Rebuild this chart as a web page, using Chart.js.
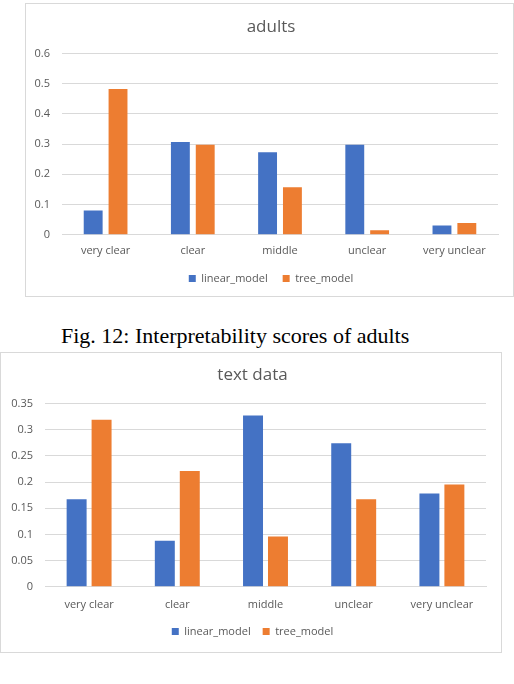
<!DOCTYPE html>
<html>
<head>
<meta charset="utf-8">
<script src="https://cdn.jsdelivr.net/npm/chart.js@4"></script>
<style>
    body { margin: 0; background: #fff; width: 514px; height: 684px; position: relative; overflow: hidden; }
    .frame { position: absolute; border: 1px solid #d9d9d9; background: #fff; box-sizing: border-box; }
    #box-adults { left: 25px; top: 3px; width: 489px; height: 294px; }
    #box-text { left: 0px; top: 352px; width: 502px; height: 301px; }
    .caption { position: absolute; left: 61px; top: 323px; font-family: "Liberation Serif", serif; font-size: 22px; line-height: 26px; color: #000; white-space: nowrap; }
</style>
</head>
<body>
<div class="frame" id="box-adults"><canvas id="chart-adults"></canvas></div>
<div class="caption">Fig. 12: Interpretability scores of adults</div>
<div class="frame" id="box-text"><canvas id="chart-text"></canvas></div>

<script>
// Catégories communes
const categories = ['very clear', 'clear', 'middle', 'unclear', 'very unclear'];
const seriesNames = ['linear_model', 'tree_model'];

// adults
const adultsLinear = [0.08, 0.307, 0.273, 0.298, 0.031];
const adultsTree = [0.482, 0.298, 0.157, 0.015, 0.039];
const adultsTicks = ['0', '0.1', '0.2', '0.3', '0.4', '0.5', '0.6'];

// text data
const textLinear = [0.167, 0.088, 0.327, 0.274, 0.178];
const textTree = [0.319, 0.221, 0.096, 0.167, 0.195];
const textTicks = ['0', '0.05', '0.1', '0.15', '0.2', '0.25', '0.3', '0.35'];

const BLUE = '#4472C4';
const ORANGE = '#ED7D31';
const GREY_TEXT = '#595959';
const FONT = '"Open Sans", "Noto Sans", sans-serif';

/**
 * Décale titre et légende horizontalement (centrage à la Excel)
 */
const shiftBlocks = {
    id: 'shiftBlocks',
    afterLayout: function(chart, args, options) {
        const s = options.shift || 0;
        [chart.legend, chart.titleBlock].forEach(function(block) {
            if (block) {
                block.left += s;
                block.right += s;
            }
        });
    }
};

/**
 * Construit un graphique à barres groupées façon Excel
 */
function buildChart(id, title, linear, tree, tickLabels, step, opts) {
    const ctx = document.getElementById(id).getContext('2d');
    const max = step * (tickLabels.length - 1);

    new Chart(ctx, {
        type: 'bar',
        data: {
            labels: categories,
            datasets: [
                { label: seriesNames[0], data: linear, backgroundColor: BLUE,
                  categoryPercentage: opts.cat, barPercentage: opts.bar },
                { label: seriesNames[1], data: tree, backgroundColor: ORANGE,
                  categoryPercentage: opts.cat, barPercentage: opts.bar }
            ]
        },
        plugins: [shiftBlocks],
        options: {
            responsive: true,
            maintainAspectRatio: false,
            animation: false,
            layout: { padding: opts.padding },
            plugins: {
                shiftBlocks: { shift: opts.shift },
                title: {
                    display: true,
                    text: title,
                    color: GREY_TEXT,
                    font: { family: FONT, size: 17, weight: 'normal' },
                    padding: { top: 0, bottom: opts.titleGap }
                },
                legend: {
                    position: 'bottom',
                    labels: {
                        color: GREY_TEXT,
                        font: { family: FONT, size: 11 },
                        boxWidth: 7,
                        boxHeight: 7,
                        padding: opts.legendPad
                    }
                },
                tooltip: { enabled: false }
            },
            scales: {
                x: {
                    grid: { display: false },
                    border: { display: true, color: '#d9d9d9' },
                    ticks: { color: GREY_TEXT, font: { family: FONT, size: 11 }, padding: opts.xPad, maxRotation: 0 }
                },
                y: {
                    min: 0,
                    max: max,
                    afterFit: function(scale) { scale.width = opts.yWidth; },
                    grid: { color: '#d9d9d9', drawTicks: false },
                    border: { display: false },
                    ticks: {
                        stepSize: step,
                        color: GREY_TEXT,
                        font: { family: FONT, size: 11 },
                        padding: 12,
                        callback: function(value, index) { return tickLabels[index]; }
                    }
                }
            }
        }
    });
}

buildChart('chart-adults', 'adults', adultsLinear, adultsTree, adultsTicks, 0.1,
    { cat: 0.57, bar: 0.76, yWidth: 36, titleGap: 16, legendPad: 15, xPad: 1, shift: 9,
      padding: { top: 13, right: 15, bottom: 2, left: 0 } });

buildChart('chart-text', 'text data', textLinear, textTree, textTicks, 0.05,
    { cat: 0.566, bar: 0.8, yWidth: 44, titleGap: 18, legendPad: 12, xPad: 3, shift: 9,
      padding: { top: 12, right: 15, bottom: 5, left: 0 } });
</script>
</body>
</html>
